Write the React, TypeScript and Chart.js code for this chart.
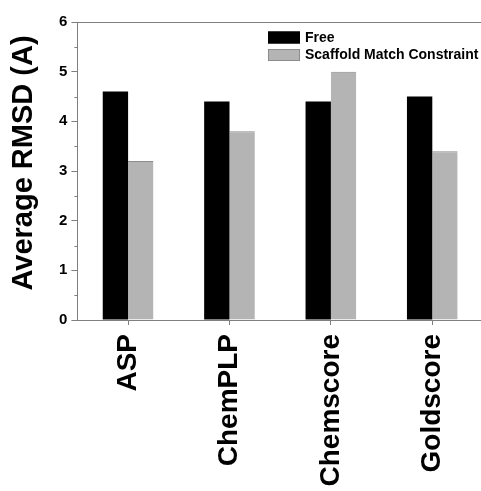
import React, { useEffect, useRef } from "react";
import { Chart, registerables } from "chart.js";

Chart.register(...registerables);

const categories = ["ASP", "ChemPLP", "Chemscore", "Goldscore"];
const freeValues = [4.6, 4.4, 4.4, 4.5];
const scaffoldValues = [3.2, 3.8, 5.0, 3.4];
const seriesNames = ["Free", "Scaffold Match Constraint"];
const yMin = 0;
const yMax = 6;
const yStep = 1;
const yTitle = "Average RMSD (A)";

const AXIS = "#7f7f7f";
const FONT = "'Liberation Sans', Arial, sans-serif";

const decorPlugin = {
  id: "decor",
  afterDraw(chart: any) {
    const ctx = chart.ctx;
    const area = chart.chartArea;
    const y = chart.scales.y;
    ctx.save();
    // top frame line
    ctx.strokeStyle = AXIS;
    ctx.lineWidth = 1;
    ctx.beginPath();
    ctx.moveTo(area.left, Math.round(area.top) + 0.5);
    ctx.lineTo(area.right, Math.round(area.top) + 0.5);
    ctx.stroke();
    // minor ticks
    for (let v = yMin + yStep / 2; v < yMax; v += yStep) {
      const py = Math.round(y.getPixelForValue(v)) + 0.5;
      ctx.beginPath();
      ctx.moveTo(area.left - 3, py);
      ctx.lineTo(area.left, py);
      ctx.stroke();
    }
    // y title
    ctx.fillStyle = "#000";
    ctx.font = `bold 29px ${FONT}`;
    ctx.textAlign = "center";
    ctx.textBaseline = "middle";
    ctx.translate(24, 163);
    ctx.rotate(-Math.PI / 2);
    ctx.fillText(yTitle, 0, 0);
    ctx.restore();

    // legend
    ctx.save();
    const ds = chart.data.datasets;
    const boxX = 268;
    const rows = [37, 54.5];
    ctx.font = `bold 14px ${FONT}`;
    ctx.textAlign = "left";
    ctx.textBaseline = "middle";
    ds.forEach((d: any, i: number) => {
      const cy = rows[i];
      ctx.fillStyle = d.backgroundColor;
      ctx.fillRect(boxX, cy - 5.5, 32, 12);
      ctx.strokeStyle = d.legendBorder;
      ctx.lineWidth = 1;
      ctx.strokeRect(boxX + 0.5, cy - 5, 31, 11);
      ctx.fillStyle = "#000";
      ctx.fillText(d.label, 305, cy + 1);
    });
    ctx.restore();
  },
};

function App() {
  const ref = useRef<HTMLCanvasElement>(null);
  useEffect(() => {
    if (!ref.current) return;
    const chart = new Chart(ref.current, {
      type: "bar",
      data: {
        labels: categories,
        datasets: [
          {
            label: seriesNames[0],
            data: freeValues,
            backgroundColor: "#000000",
            borderColor: "#000000",
            borderWidth: 0,
            legendBorder: "#000000",
          } as any,
          {
            label: seriesNames[1],
            data: scaffoldValues,
            backgroundColor: "#b4b4b4",
            borderColor: "#8c8c8c",
            borderWidth: { top: 1, left: 0, right: 0, bottom: 0 },
            legendBorder: "#8c8c8c",
          } as any,
        ],
      },
      options: {
        animation: false,
        responsive: false,
        maintainAspectRatio: false,
        layout: { padding: { left: 0, top: 22, right: 0, bottom: 0 } },
        plugins: { legend: { display: false }, tooltip: { enabled: false } },
        datasets: { bar: { categoryPercentage: 0.5, barPercentage: 1.0 } },
        scales: {
          x: {
            afterFit(scale: any) {
              scale.height = 171;
            },
            grid: {
              drawOnChartArea: false,
              drawTicks: true,
              tickLength: 5,
              color: AXIS,
              offset: false,
            },
            border: { display: true, color: AXIS, width: 1 },
            ticks: {
              minRotation: 90,
              maxRotation: 90,
              padding: 9,
              color: "#000",
              font: { family: FONT, size: 28, weight: "bold" },
            },
          },
          y: {
            min: yMin,
            max: yMax,
            afterFit(scale: any) {
              scale.width = 77.4;
            },
            grid: {
              drawOnChartArea: false,
              drawTicks: true,
              tickLength: 6,
              color: AXIS,
            },
            border: { display: true, color: AXIS, width: 1 },
            ticks: {
              stepSize: yStep,
              padding: 4,
              color: "#000",
              font: { family: FONT, size: 15, weight: "bold" },
            },
          },
        },
      } as any,
      plugins: [decorPlugin],
    });
    return () => chart.destroy();
  }, []);
  return (
    <div style={{ position: "absolute", left: 0, top: 0, width: 481, height: 491, overflow: "hidden", background: "#fff" }}>
      <canvas ref={ref} width={483} height={491} style={{ display: "block", width: 483, height: 491 }} />
    </div>
  );
}

export default App;
